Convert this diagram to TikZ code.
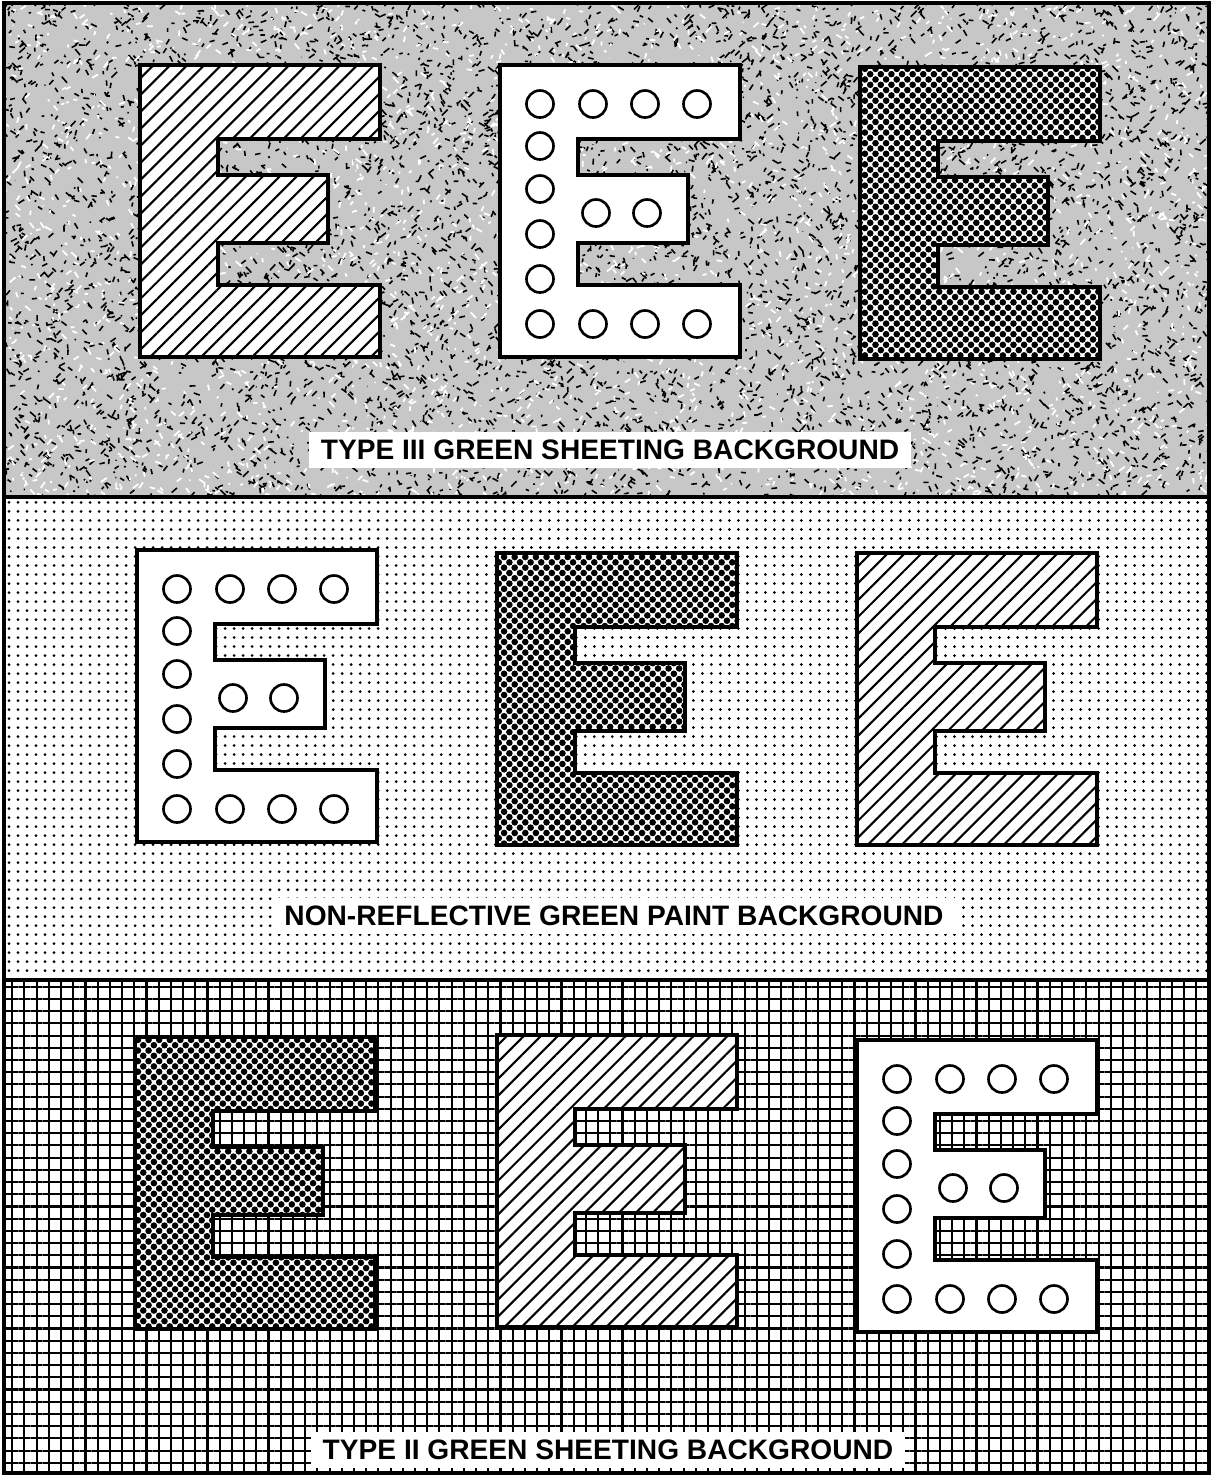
\documentclass[tikz,border=0pt]{standalone}
\usepackage{fontspec}
\setmainfont{Liberation Sans}
\usetikzlibrary{patterns.meta}

% outline of one letter E, top left corner at (0,0)
\newcommand{\Eoutline}{(0,0) -- (240,0) -- (240,74) -- (78,74) -- (78,110) -- (188,110) -- (188,178) -- (78,178) -- (78,220) -- (240,220) -- (240,292) -- (0,292) -- cycle}

\tikzset{
  eedge/.style={draw, line width=0.9pt, line join=miter},
  hatchE/.style={eedge, preaction={fill=white}, pattern={Lines[angle=45,distance=0.12cm,line width=0.6pt]}},
  crossE/.style={eedge, preaction={fill=white}, pattern={Dots[angle=45,distance=0.075cm,radius=0.033cm]}},
  ringE/.style={eedge, fill=white},
  ring/.style={draw, line width=0.75pt},
  caption/.style={fill=white, inner xsep=0.12cm, inner ysep=0.08cm, font=\fontsize{8}{9.6}\selectfont\bfseries}
}

\begin{document}
\begin{tikzpicture}[x=0.01cm, y=-0.01cm]
        \useasboundingbox (0,0) rectangle (1212,1475);

        % type III sheeting, speckled
        \begin{scope}
          \clip (4,3) rectangle (1209,497);
          \fill[black!22] (4,3) rectangle (1209,497);
          \pgfmathsetseed{11}
          \draw[line width=0.45pt] \foreach \k in {1,...,6500}{({rnd*1212},{rnd*500}) -- ++({6*rand},{6*rand})};
          \draw[white, line width=0.5pt] \foreach \k in {1,...,3000}{({rnd*1212},{rnd*500}) -- ++({6*rand},{6*rand})};
        \end{scope}

        % non-reflective paint, dotted
        \fill[pattern={Dots[distance=0.09cm,radius=0.015cm]}] (4,497) rectangle (1209,980);

        % type II sheeting, grid
        \fill[pattern={Hatch[distance=0.122cm,line width=0.6pt]}] (4,980) rectangle (1209,1473);

        % panel frame
        \draw[line width=0.9pt] (4,3) rectangle (1209,1473);
        \draw[line width=0.9pt] (4,497) -- (1209,497);
        \draw[line width=0.9pt] (4,980) -- (1209,980);

        % hatched letters
        \foreach \ex/\ey in {140/65, 857/553, 497/1035}
          \draw[hatchE, shift={(\ex,\ey)}] \Eoutline;

        % cross-hatched letters
        \foreach \ex/\ey in {860/67, 497/553, 135/1037}
          \draw[crossE, shift={(\ex,\ey)}] \Eoutline;

        % letters with rings
        \foreach \ex/\ey in {500/65, 137/550, 857/1040}{
          \draw[ringE, shift={(\ex,\ey)}] \Eoutline;
          \foreach \cx/\cy in {40/39,93/39,145/39,197/39,40/81,40/124,40/169,40/214,96/148,147/148,40/259,93/259,145/259,197/259}
            \draw[ring, shift={(\ex,\ey)}] (\cx,\cy) circle[radius=0.135cm];
        }

        % captions
        \node[caption] (lblTop) at (610,450) {TYPE III GREEN SHEETING BACKGROUND};
        \node[caption] (lblMid) at (614,916) {NON-REFLECTIVE GREEN PAINT BACKGROUND};
        \node[caption] (lblBot) at (608,1450) {TYPE II GREEN SHEETING BACKGROUND};
\end{tikzpicture}
\end{document}
